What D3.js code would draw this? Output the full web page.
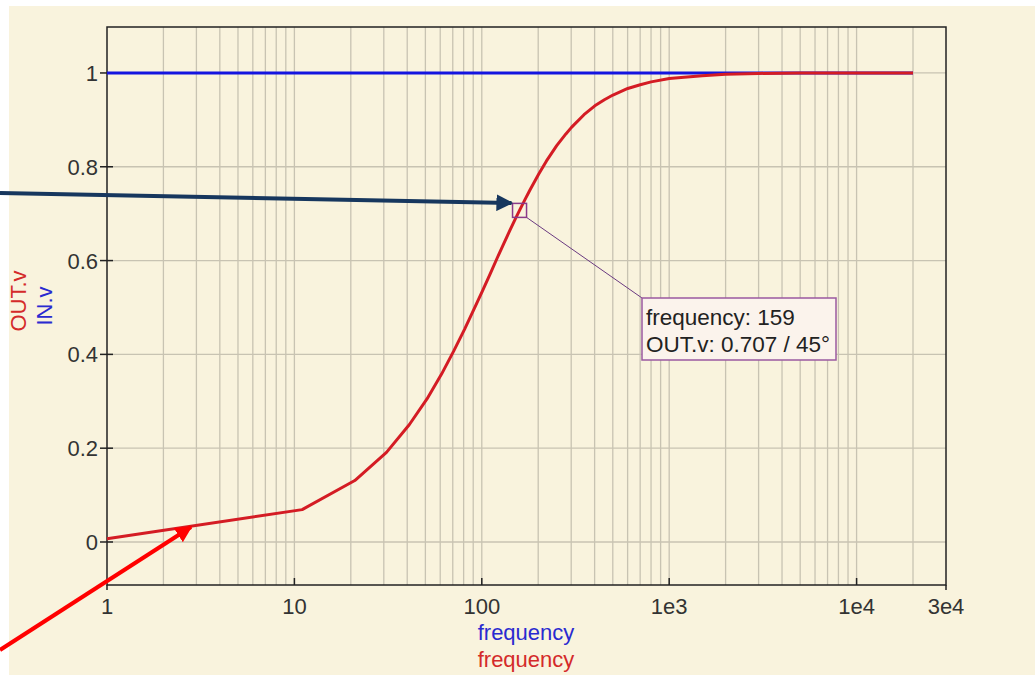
<!DOCTYPE html>
<html>
<head>
<meta charset="utf-8">
<script src="https://cdn.jsdelivr.net/npm/d3@7"></script>
<style>
  html, body { margin: 0; padding: 0; background: #ffffff; }
  svg { display: block; }
  text { font-family: "Liberation Sans", Arial, sans-serif; }
</style>
</head>
<body>
<svg id="chart" width="1035" height="675"></svg>
<script>
// Frequency sweep (Hz) and magnitudes of the RC high-pass response
const frequency = [1, 11, 21, 31, 41, 51, 61, 71, 81, 91, 101, 111, 121, 131, 141, 151, 159, 171, 181, 201, 221, 251, 281, 301, 351, 401, 451, 501, 601, 701, 801, 1001, 1201, 1501, 2001, 3001, 5001, 20001];
const outV      = [0.007, 0.069, 0.131, 0.191, 0.250, 0.305, 0.358, 0.408, 0.454, 0.497, 0.536, 0.572, 0.606, 0.636, 0.664, 0.689, 0.707, 0.732, 0.751, 0.784, 0.812, 0.845, 0.870, 0.884, 0.911, 0.930, 0.943, 0.953, 0.967, 0.975, 0.981, 0.988, 0.991, 0.994, 0.997, 0.999, 1.0, 1.0];
const inFreq    = [1, 20001];
const inV       = [1, 1];

const yTicks = [0, 0.2, 0.4, 0.6, 0.8, 1];
const xTicks = [1, 10, 100, 1000, 10000, 30000];
const xTickLabels = ["1", "10", "100", "1e3", "1e4", "3e4"];

const cursorFreq = 159;
const cursorOut = 0.707;
const cursorPhase = 45;

const svg = d3.select("#chart");
const W = 1035, H = 675;
const plot = { left: 107, right: 946, top: 27, bottom: 585 };

// panel background
svg.append("rect").attr("x", 9).attr("y", 6).attr("width", W - 9).attr("height", H - 6)
  .attr("fill", "#f9f3dd");

const x = d3.scaleLog().domain([1, 30000]).range([plot.left, plot.right]);
const y = d3.scaleLinear().domain([-0.0917, 1.098]).range([plot.bottom, plot.top]);

// vertical grid: 1..9 within each decade
const gridX = [];
for (let d = 1; d <= 10000; d *= 10) {
  for (let m = 1; m <= 9; m++) {
    const v = d * m;
    if (v > 1 && v < 30000) gridX.push(v);
  }
}
const grid = svg.append("g").attr("stroke", "#c8c3b2").attr("stroke-width", 1.3);
grid.selectAll("line.gx").data(gridX).join("line")
  .attr("x1", d => x(d)).attr("x2", d => x(d))
  .attr("y1", plot.top).attr("y2", plot.bottom);
grid.selectAll("line.gy").data(yTicks).join("line")
  .attr("x1", plot.left).attr("x2", plot.right)
  .attr("y1", d => y(d)).attr("y2", d => y(d));

// axes frame
const frame = svg.append("g").attr("stroke", "#222").attr("stroke-width", 1.5).attr("fill", "none");
frame.append("rect").attr("x", plot.left).attr("y", plot.top)
  .attr("width", plot.right - plot.left).attr("height", plot.bottom - plot.top);
frame.append("line").attr("x1", plot.left).attr("x2", plot.left).attr("y1", plot.bottom).attr("y2", plot.bottom + 5);
frame.append("line").attr("x1", plot.right).attr("x2", plot.right).attr("y1", plot.bottom).attr("y2", plot.bottom + 5);

// y axis ticks and labels
const yAxis = svg.append("g");
yAxis.selectAll("line").data(yTicks).join("line")
  .attr("x1", plot.left - 7).attr("x2", plot.left + 6)
  .attr("y1", d => y(d)).attr("y2", d => y(d))
  .attr("stroke", "#222").attr("stroke-width", 1.5);
yAxis.selectAll("text").data(yTicks).join("text")
  .attr("x", plot.left - 9).attr("y", d => y(d) + 8)
  .attr("text-anchor", "end").attr("font-size", 22).attr("fill", "#333")
  .text(d => d3.format("~g")(d));

// x axis ticks and labels
const xAxis = svg.append("g");
xAxis.selectAll("line").data(xTicks.slice(1, -1)).join("line")
  .attr("x1", d => x(d)).attr("x2", d => x(d))
  .attr("y1", plot.bottom - 7).attr("y2", plot.bottom)
  .attr("stroke", "#222").attr("stroke-width", 1.5);
xAxis.selectAll("text").data(xTicks).join("text")
  .attr("x", d => x(d)).attr("y", plot.bottom + 29)
  .attr("text-anchor", "middle").attr("font-size", 22).attr("fill", "#333")
  .text((d, i) => xTickLabels[i]);

// axis titles
svg.append("text").attr("x", 526).attr("y", 640).attr("text-anchor", "middle")
  .attr("font-size", 22).attr("fill", "#2a2ad0").text("frequency");
svg.append("text").attr("x", 526).attr("y", 667).attr("text-anchor", "middle")
  .attr("font-size", 22).attr("fill", "#d42a2a").text("frequency");
svg.append("text").attr("transform", "translate(26,301) rotate(-90)").attr("text-anchor", "middle")
  .attr("font-size", 22).attr("fill", "#d42a2a").text("OUT.v");
svg.append("text").attr("transform", "translate(52,306) rotate(-90)").attr("text-anchor", "middle")
  .attr("font-size", 22).attr("fill", "#2a2ad0").text("IN.v");

// traces
const line = d3.line().x(d => x(d[0])).y(d => y(d[1]));
svg.append("path").datum(d3.zip(inFreq, inV)).attr("d", line)
  .attr("fill", "none").attr("stroke", "#1414e0").attr("stroke-width", 3);
svg.append("path").datum(d3.zip(frequency, outV)).attr("d", line)
  .attr("fill", "none").attr("stroke", "#d41c24").attr("stroke-width", 3)
  .attr("stroke-linejoin", "round");

// cursor marker and readout
const cx = x(cursorFreq), cy = y(cursorOut);
const box = { x: 642, y: 298, w: 194, h: 62 };
svg.append("line").attr("x1", cx + 7).attr("y1", cy + 7).attr("x2", box.x).attr("y2", box.y)
  .attr("stroke", "#6a3a80").attr("stroke-width", 1);
svg.append("rect").attr("x", cx - 7).attr("y", cy - 7).attr("width", 14).attr("height", 14)
  .attr("fill", "none").attr("stroke", "#8a3a8a").attr("stroke-width", 1.5);
svg.append("rect").attr("x", box.x).attr("y", box.y).attr("width", box.w).attr("height", box.h)
  .attr("fill", "#fbf3ec").attr("stroke", "#9a5aa0").attr("stroke-width", 1.5);
svg.append("text").attr("x", box.x + 4).attr("y", box.y + 27).attr("font-size", 22.5).attr("fill", "#222")
  .text(`frequency: ${cursorFreq}`);
svg.append("text").attr("x", box.x + 4).attr("y", box.y + 53.5).attr("font-size", 22.5).attr("fill", "#222")
  .text(`OUT.v: ${cursorOut} / ${cursorPhase}°`);

// callout arrows
const defs = svg.append("defs");
function marker(id, color) {
  defs.append("marker").attr("id", id).attr("viewBox", "0 0 10 10")
    .attr("refX", 9).attr("refY", 5).attr("markerWidth", 4.2).attr("markerHeight", 4.2)
    .attr("orient", "auto").attr("markerUnits", "strokeWidth")
    .append("path").attr("d", "M0,0 L10,5 L0,10 Z").attr("fill", color);
}
marker("headNavy", "#17375e");
marker("headRed", "#ff0000");
svg.append("line").attr("x1", 0).attr("y1", 193).attr("x2", cx - 8).attr("y2", 203)
  .attr("stroke", "#17375e").attr("stroke-width", 4).attr("marker-end", "url(#headNavy)");
svg.append("line").attr("x1", 0).attr("y1", 650).attr("x2", 191).attr("y2", 527)
  .attr("stroke", "#ff0000").attr("stroke-width", 4).attr("marker-end", "url(#headRed)");
</script>
</body>
</html>
